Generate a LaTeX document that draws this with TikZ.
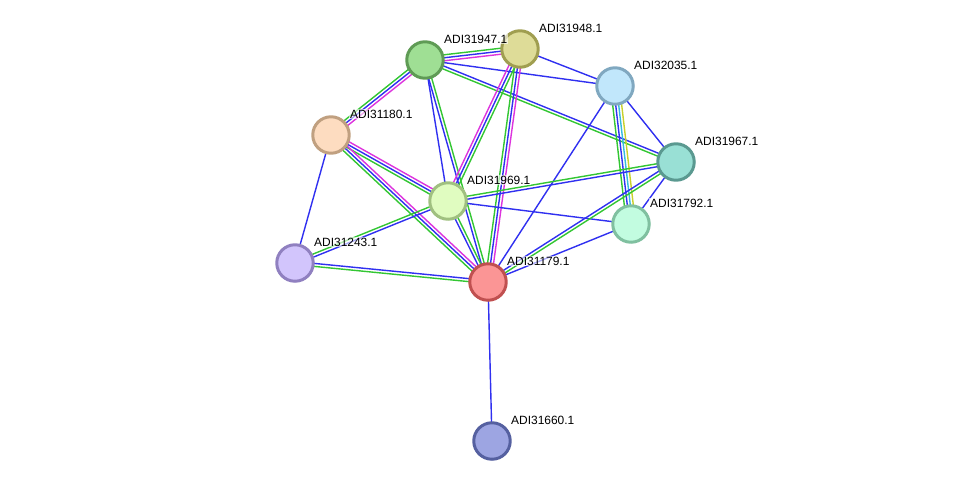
\documentclass[tikz,border=0pt]{standalone}
\usepackage{fontspec}
\newfontfamily\lblfont{Liberation Sans}
\usetikzlibrary{positioning,calc,backgrounds}
\definecolor{sgreen}{HTML}{33C633}
\definecolor{sblue}{HTML}{3030F0}
\definecolor{smag}{HTML}{DD33DD}
\definecolor{scyan}{HTML}{33BBDD}
\definecolor{syel}{HTML}{C8D02A}
\newcommand{\edgeset}[3]{%
  \foreach \c/\o in {#3}{%
    \draw[link, \c] ($(#1.center)!\o!90:(#2.center)$) -- ($(#2.center)!\o!-90:(#1.center)$);}}
\tikzset{
  prot/.style={circle, inner sep=0pt, minimum size=0.73cm, line width=1.7pt},
  lbl/.style={font=\lblfont\fontsize{6.8}{8}\selectfont, inner sep=0.5pt, fill=white, fill opacity=.6, text opacity=1},
  link/.style={line width=0.8pt}
}
\begin{document}
\begin{tikzpicture}[x=0.02cm, y=-0.02cm]
\useasboundingbox (0,0) rectangle (975,487);
\node[prot, fill={rgb,255:red,159;green,223;blue,148}, draw={rgb,255:red,95;green,155;blue,85}] (n31947) at (425,60){};
\node[prot, fill={rgb,255:red,222;green,220;blue,152}, draw={rgb,255:red,160;green,158;blue,80}] (n31948) at (520,49){};
\node[prot, fill={rgb,255:red,193;green,231;blue,251}, draw={rgb,255:red,128;green,168;blue,192}] (n32035) at (615,86){};
\node[prot, fill={rgb,255:red,253;green,220;blue,192}, draw={rgb,255:red,192;green,160;blue,128}] (n31180) at (331,135){};
\node[prot, fill={rgb,255:red,153;green,224;blue,213}, draw={rgb,255:red,90;green,153;blue,144}] (n31967) at (676,162){};
\node[prot, fill={rgb,255:red,224;green,252;blue,192}, draw={rgb,255:red,160;green,192;blue,128}] (n31969) at (448,201){};
\node[prot, fill={rgb,255:red,194;green,252;blue,224}, draw={rgb,255:red,128;green,192;blue,160}] (n31792) at (631,224){};
\node[prot, fill={rgb,255:red,210;green,197;blue,252}, draw={rgb,255:red,144;green,128;blue,192}] (n31243) at (295,263){};
\node[prot, fill={rgb,255:red,251;green,149;blue,149}, draw={rgb,255:red,192;green,80;blue,80}] (n31179) at (488,282){};
\node[prot, fill={rgb,255:red,157;green,165;blue,226}, draw={rgb,255:red,85;green,96;blue,160}] (n31660) at (492,441){};

\node[lbl, right=0.36cm of n31947.center, yshift=0.42cm] (l31947) {ADI31947.1};
\node[lbl, right=0.36cm of n31948.center, yshift=0.42cm] (l31948) {ADI31948.1};
\node[lbl, right=0.36cm of n32035.center, yshift=0.42cm] (l32035) {ADI32035.1};
\node[lbl, right=0.36cm of n31180.center, yshift=0.42cm] (l31180) {ADI31180.1};
\node[lbl, right=0.36cm of n31967.center, yshift=0.42cm] (l31967) {ADI31967.1};
\node[lbl, right=0.36cm of n31969.center, yshift=0.42cm] (l31969) {ADI31969.1};
\node[lbl, right=0.36cm of n31792.center, yshift=0.42cm] (l31792) {ADI31792.1};
\node[lbl, right=0.36cm of n31243.center, yshift=0.42cm] (l31243) {ADI31243.1};
\node[lbl, right=0.36cm of n31179.center, yshift=0.42cm] (l31179) {ADI31179.1};
\node[lbl, right=0.36cm of n31660.center, yshift=0.42cm] (l31660) {ADI31660.1};

\begin{pgfonlayer}{background}
\edgeset{n31947}{n31948}{sgreen/1.7pt, sblue/0pt, smag/-1.7pt}
\edgeset{n31947}{n32035}{sblue/0pt}
\edgeset{n31947}{n31967}{sgreen/-0.85pt, sblue/0.85pt}
\edgeset{n31947}{n31180}{sgreen/-1.7pt, sblue/0pt, smag/1.7pt}
\edgeset{n31947}{n31969}{sblue/0pt}
\edgeset{n31947}{n31179}{sblue/-0.85pt, sgreen/0.85pt}
\edgeset{n31948}{n32035}{sblue/0pt}
\edgeset{n31948}{n31969}{smag/-1.7pt, sblue/0pt, sgreen/1.7pt}
\edgeset{n31948}{n31179}{sgreen/-1.7pt, sblue/0pt, smag/1.7pt}
\edgeset{n32035}{n31792}{sgreen/-2.55pt, sblue/-0.85pt, scyan/0.85pt, syel/2.55pt}
\edgeset{n32035}{n31967}{sblue/0pt}
\edgeset{n32035}{n31179}{sblue/0pt}
\edgeset{n31180}{n31969}{sgreen/-1.7pt, sblue/0pt, smag/1.7pt}
\edgeset{n31180}{n31179}{sgreen/-1.7pt, sblue/0pt, smag/1.7pt}
\edgeset{n31180}{n31243}{sblue/0pt}
\edgeset{n31969}{n31967}{sblue/-0.85pt, sgreen/0.85pt}
\edgeset{n31969}{n31792}{sblue/0pt}
\edgeset{n31969}{n31243}{sgreen/-0.85pt, sblue/0.85pt}
\edgeset{n31969}{n31179}{sblue/-0.85pt, sgreen/0.85pt}
\edgeset{n31243}{n31179}{sblue/0.85pt, sgreen/-0.85pt}
\edgeset{n31179}{n31967}{sgreen/-0.85pt, sblue/0.85pt}
\edgeset{n31179}{n31792}{sblue/0pt}
\edgeset{n31179}{n31660}{sblue/0pt}
\edgeset{n31967}{n31792}{sblue/0pt}
\end{pgfonlayer}
\end{tikzpicture}
\end{document}
